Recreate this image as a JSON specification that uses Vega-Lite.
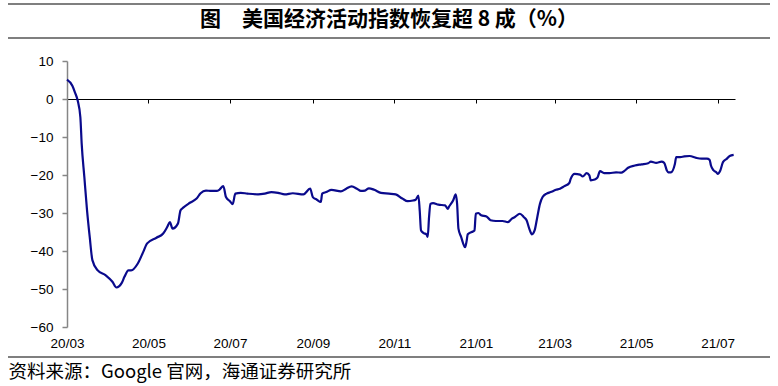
{
  "$schema": "https://vega.github.io/schema/vega-lite/v6.json",
  "autosize": "none",
  "width": 668,
  "height": 266,
  "padding": {"left": 67, "top": 61, "right": 43, "bottom": 59},
  "background": "white",
  "config": {"view": {"stroke": null}, "font": "Liberation Sans"},
  "title": {
    "text": "图　美国经济活动指数恢复超 8 成（%）",
    "font": "Noto Sans CJK SC",
    "fontSize": 21,
    "fontWeight": "bold",
    "color": "#000000",
    "anchor": "middle",
    "frame": "group",
    "baseline": "bottom",
    "dx": -12,
    "dy": 48,
    "offset": 0
  },
  "layer": [
    {
      "data": {"values": [
        {"date": "2020-03-01", "value": 5.1},
        {"date": "2020-03-05", "value": 3.5},
        {"date": "2020-03-07", "value": 1.7},
        {"date": "2020-03-09", "value": -0.4},
        {"date": "2020-03-11", "value": -4.8},
        {"date": "2020-03-12", "value": -11.8},
        {"date": "2020-03-14", "value": -20.6},
        {"date": "2020-03-16", "value": -29.3},
        {"date": "2020-03-18", "value": -36.3},
        {"date": "2020-03-20", "value": -42.4},
        {"date": "2020-03-24", "value": -45.1},
        {"date": "2020-03-30", "value": -46.4},
        {"date": "2020-04-04", "value": -48.1},
        {"date": "2020-04-07", "value": -49.6},
        {"date": "2020-04-11", "value": -48.4},
        {"date": "2020-04-13", "value": -46.8},
        {"date": "2020-04-16", "value": -45.1},
        {"date": "2020-04-18", "value": -45.1},
        {"date": "2020-04-23", "value": -43.3},
        {"date": "2020-04-27", "value": -40.3},
        {"date": "2020-04-30", "value": -38.0},
        {"date": "2020-05-07", "value": -36.5},
        {"date": "2020-05-12", "value": -35.4},
        {"date": "2020-05-15", "value": -33.7},
        {"date": "2020-05-17", "value": -32.4},
        {"date": "2020-05-19", "value": -34.1},
        {"date": "2020-05-23", "value": -32.8},
        {"date": "2020-05-25", "value": -29.3},
        {"date": "2020-05-27", "value": -28.6},
        {"date": "2020-06-01", "value": -27.3},
        {"date": "2020-06-06", "value": -26.2},
        {"date": "2020-06-09", "value": -24.8},
        {"date": "2020-06-13", "value": -24.1},
        {"date": "2020-06-17", "value": -24.2},
        {"date": "2020-06-21", "value": -24.2},
        {"date": "2020-06-23", "value": -23.9},
        {"date": "2020-06-26", "value": -22.9},
        {"date": "2020-06-28", "value": -25.8},
        {"date": "2020-07-01", "value": -26.9},
        {"date": "2020-07-03", "value": -27.7},
        {"date": "2020-07-05", "value": -24.9},
        {"date": "2020-07-09", "value": -24.7},
        {"date": "2020-07-14", "value": -24.9},
        {"date": "2020-07-22", "value": -25.1},
        {"date": "2020-07-27", "value": -24.9},
        {"date": "2020-08-01", "value": -24.5},
        {"date": "2020-08-06", "value": -24.7},
        {"date": "2020-08-11", "value": -25.1},
        {"date": "2020-08-17", "value": -24.8},
        {"date": "2020-08-25", "value": -25.1},
        {"date": "2020-08-30", "value": -23.6},
        {"date": "2020-09-01", "value": -25.8},
        {"date": "2020-09-04", "value": -26.5},
        {"date": "2020-09-07", "value": -27.1},
        {"date": "2020-09-08", "value": -24.9},
        {"date": "2020-09-11", "value": -24.5},
        {"date": "2020-09-15", "value": -23.9},
        {"date": "2020-09-22", "value": -24.3},
        {"date": "2020-09-26", "value": -23.6},
        {"date": "2020-09-30", "value": -23.0},
        {"date": "2020-10-04", "value": -23.6},
        {"date": "2020-10-07", "value": -24.2},
        {"date": "2020-10-10", "value": -24.1},
        {"date": "2020-10-13", "value": -23.5},
        {"date": "2020-10-17", "value": -23.9},
        {"date": "2020-10-22", "value": -24.7},
        {"date": "2020-10-28", "value": -24.9},
        {"date": "2020-11-02", "value": -25.1},
        {"date": "2020-11-07", "value": -26.2},
        {"date": "2020-11-11", "value": -26.9},
        {"date": "2020-11-15", "value": -26.7},
        {"date": "2020-11-17", "value": -26.5},
        {"date": "2020-11-19", "value": -25.4},
        {"date": "2020-11-20", "value": -29.3},
        {"date": "2020-11-21", "value": -34.6},
        {"date": "2020-11-23", "value": -35.3},
        {"date": "2020-11-25", "value": -35.6},
        {"date": "2020-11-26", "value": -36.3},
        {"date": "2020-11-27", "value": -31.1},
        {"date": "2020-11-28", "value": -27.6},
        {"date": "2020-11-30", "value": -27.4},
        {"date": "2020-12-04", "value": -27.8},
        {"date": "2020-12-09", "value": -28.0},
        {"date": "2020-12-11", "value": -28.9},
        {"date": "2020-12-12", "value": -28.3},
        {"date": "2020-12-15", "value": -26.7},
        {"date": "2020-12-17", "value": -25.1},
        {"date": "2020-12-18", "value": -27.6},
        {"date": "2020-12-19", "value": -34.1},
        {"date": "2020-12-21", "value": -36.3},
        {"date": "2020-12-24", "value": -39.0},
        {"date": "2020-12-25", "value": -37.6},
        {"date": "2020-12-26", "value": -35.6},
        {"date": "2020-12-29", "value": -35.0},
        {"date": "2020-12-31", "value": -34.6},
        {"date": "2021-01-01", "value": -30.2},
        {"date": "2021-01-03", "value": -30.0},
        {"date": "2021-01-05", "value": -30.6},
        {"date": "2021-01-09", "value": -30.9},
        {"date": "2021-01-12", "value": -31.9},
        {"date": "2021-01-16", "value": -32.1},
        {"date": "2021-01-21", "value": -32.1},
        {"date": "2021-01-25", "value": -32.4},
        {"date": "2021-01-28", "value": -31.5},
        {"date": "2021-01-30", "value": -31.1},
        {"date": "2021-02-03", "value": -30.2},
        {"date": "2021-02-06", "value": -31.1},
        {"date": "2021-02-08", "value": -31.9},
        {"date": "2021-02-10", "value": -34.1},
        {"date": "2021-02-12", "value": -35.6},
        {"date": "2021-02-14", "value": -34.6},
        {"date": "2021-02-16", "value": -31.1},
        {"date": "2021-02-18", "value": -27.6},
        {"date": "2021-02-20", "value": -25.8},
        {"date": "2021-02-23", "value": -24.9},
        {"date": "2021-02-26", "value": -24.5},
        {"date": "2021-03-02", "value": -23.9},
        {"date": "2021-03-05", "value": -23.6},
        {"date": "2021-03-08", "value": -23.0},
        {"date": "2021-03-12", "value": -22.1},
        {"date": "2021-03-13", "value": -21.0},
        {"date": "2021-03-16", "value": -19.7},
        {"date": "2021-03-20", "value": -19.9},
        {"date": "2021-03-22", "value": -20.4},
        {"date": "2021-03-25", "value": -19.5},
        {"date": "2021-03-27", "value": -20.1},
        {"date": "2021-03-28", "value": -21.4},
        {"date": "2021-03-31", "value": -21.2},
        {"date": "2021-04-02", "value": -20.7},
        {"date": "2021-04-04", "value": -19.0},
        {"date": "2021-04-07", "value": -19.5},
        {"date": "2021-04-11", "value": -19.5},
        {"date": "2021-04-16", "value": -19.3},
        {"date": "2021-04-20", "value": -19.4},
        {"date": "2021-04-22", "value": -19.0},
        {"date": "2021-04-25", "value": -18.1},
        {"date": "2021-04-30", "value": -17.5},
        {"date": "2021-05-05", "value": -17.2},
        {"date": "2021-05-10", "value": -16.9},
        {"date": "2021-05-12", "value": -16.5},
        {"date": "2021-05-16", "value": -16.8},
        {"date": "2021-05-20", "value": -16.5},
        {"date": "2021-05-22", "value": -16.8},
        {"date": "2021-05-24", "value": -18.8},
        {"date": "2021-05-25", "value": -19.3},
        {"date": "2021-05-27", "value": -19.3},
        {"date": "2021-05-30", "value": -17.1},
        {"date": "2021-05-31", "value": -15.3},
        {"date": "2021-06-03", "value": -15.3},
        {"date": "2021-06-06", "value": -15.1},
        {"date": "2021-06-10", "value": -15.0},
        {"date": "2021-06-15", "value": -15.5},
        {"date": "2021-06-19", "value": -15.7},
        {"date": "2021-06-23", "value": -15.7},
        {"date": "2021-06-25", "value": -16.0},
        {"date": "2021-06-26", "value": -17.5},
        {"date": "2021-06-28", "value": -18.8},
        {"date": "2021-06-30", "value": -19.3},
        {"date": "2021-07-01", "value": -19.7},
        {"date": "2021-07-03", "value": -18.8},
        {"date": "2021-07-05", "value": -16.6},
        {"date": "2021-07-08", "value": -15.7},
        {"date": "2021-07-10", "value": -15.0},
        {"date": "2021-07-13", "value": -14.7}
      ]},
      "mark": {"type": "line", "color": "#0a0a8c", "strokeWidth": 2.2, "interpolate": "monotone"},
      "encoding": {
        "x": {
          "field": "date",
          "type": "temporal",
          "scale": {
            "type": "utc",
            "domain": [
              {"year": 2020, "month": 3, "date": 1, "utc": true},
              {"year": 2021, "month": 7, "date": 14, "utc": true}
            ]
          },
          "axis": {
            "orient": "bottom",
            "offset": -228,
            "labelExpr": "utcFormat(datum.value, '%y/%m')",
            "tickCount": {"interval": "month", "step": 2},
            "domainColor": "#000000",
            "domainWidth": 1,
            "tickColor": "#000000",
            "tickSize": 4,
            "tickWidth": 1,
            "grid": false,
            "labelFont": "Liberation Sans",
            "labelFontSize": 13.5,
            "labelColor": "#000000",
            "labelPadding": 233,
            "labelOverlap": false,
            "labelFlush": false,
            "title": "资料来源：Google 官网，海通证券研究所",
            "titleFont": "Noto Sans CJK SC",
            "titleFontSize": 18.5,
            "titleFontWeight": "normal",
            "titleColor": "#000000",
            "titleX": -59,
            "titleY": 272,
            "titleAlign": "left",
            "titleBaseline": "middle"
          }
        },
        "y": {
          "field": "value",
          "type": "quantitative",
          "scale": {"domain": [-60, 10], "nice": false, "zero": false},
          "axis": {
            "values": [-60, -50, -40, -30, -20, -10, 0, 10],
            "domainColor": "#868686",
            "domainWidth": 1.5,
            "tickColor": "#868686",
            "tickSize": 5,
            "tickWidth": 1.5,
            "grid": false,
            "labelFont": "Liberation Sans",
            "labelFontSize": 13.5,
            "labelColor": "#000000",
            "labelPadding": 9,
            "title": null
          }
        }
      }
    },
    {
      "data": {"values": [{}]},
      "mark": {"type": "rule", "color": "#000000", "strokeWidth": 1.2},
      "encoding": {"x": {"value": -59}, "x2": {"value": 703}, "y": {"value": -57}}
    },
    {
      "data": {"values": [{}]},
      "mark": {"type": "rule", "color": "#000000", "strokeWidth": 1.2},
      "encoding": {"x": {"value": -59}, "x2": {"value": 703}, "y": {"value": -23}}
    },
    {
      "data": {"values": [{}]},
      "mark": {"type": "rule", "color": "#000000", "strokeWidth": 1.2},
      "encoding": {"x": {"value": -59}, "x2": {"value": 703}, "y": {"value": 296}}
    }
  ]
}
